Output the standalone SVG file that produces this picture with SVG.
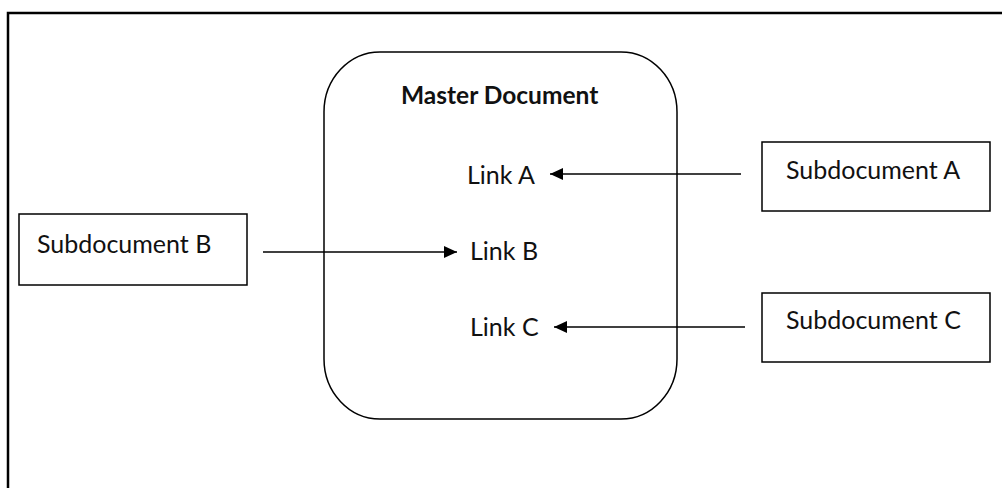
<svg xmlns="http://www.w3.org/2000/svg" width="1002" height="488" viewBox="0 0 1002 488">
  <defs>
    <style>
      .box { fill: #ffffff; stroke: #000000; stroke-width: 1.5; }
      .conn { stroke: #000000; stroke-width: 1.5; fill: none; }
      .lbl { font-family: Lato, "Open Sans", "Liberation Sans", sans-serif; font-size: 25px; fill: #111111; }
      .title { font-family: Lato, "Open Sans", "Liberation Sans", sans-serif; font-size: 24.5px; font-weight: bold; fill: #111111; }
    </style>
    <marker id="arrow" markerUnits="userSpaceOnUse" markerWidth="14" markerHeight="12" refX="13" refY="6" orient="auto">
      <path d="M0,0 L13,6 L0,12 Z" fill="#000000"/>
    </marker>
  </defs>
  <rect x="0" y="0" width="1002" height="488" fill="#ffffff"/>
  <path d="M8,488 V13 H1002" fill="none" stroke="#000000" stroke-width="2.5"/>

  <g id="master">
    <rect class="box" x="324" y="52" width="353" height="367" rx="56" ry="60"/>
    <text class="title" x="401" y="104">Master Document</text>
    <text class="lbl" x="467" y="184">Link A</text>
    <text class="lbl" x="470" y="260">Link B</text>
    <text class="lbl" x="470" y="336">Link C</text>
  </g>

  <g id="subA">
    <rect class="box" x="762" y="142" width="228" height="69"/>
    <text class="lbl" x="786" y="179">Subdocument A</text>
  </g>

  <g id="subB">
    <rect class="box" x="19" y="214" width="228" height="71"/>
    <text class="lbl" x="37" y="253">Subdocument B</text>
  </g>

  <g id="subC">
    <rect class="box" x="762" y="293" width="228" height="69"/>
    <text class="lbl" x="786" y="329">Subdocument C</text>
  </g>

  <g id="connectors">
    <line class="conn" x1="741" y1="174" x2="550" y2="174" marker-end="url(#arrow)"/>
    <line class="conn" x1="263" y1="252" x2="457" y2="252" marker-end="url(#arrow)"/>
    <line class="conn" x1="745" y1="327" x2="554" y2="327" marker-end="url(#arrow)"/>
  </g>
</svg>
